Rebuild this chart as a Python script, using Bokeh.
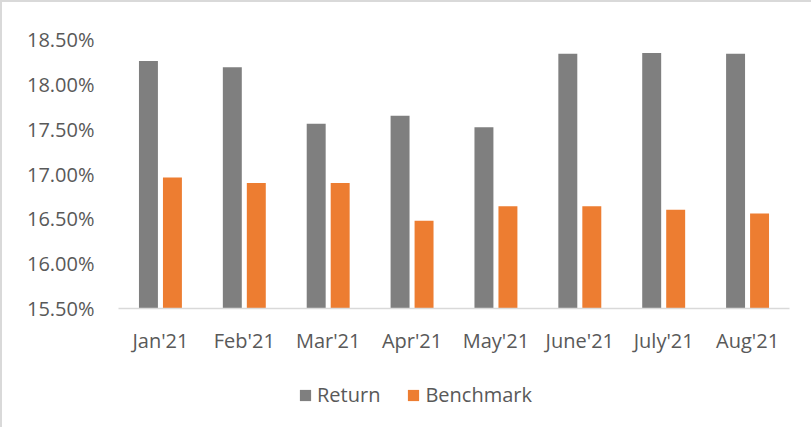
from bokeh.plotting import figure
from bokeh.layouts import column
from bokeh.models import Range1d, NumeralTickFormatter, FixedTicker, Legend, LegendItem, ColumnDataSource
from bokeh.transform import dodge
from bokeh.embed import file_html
from bokeh.resources import INLINE

months = ["Jan'21", "Feb'21", "Mar'21", "Apr'21", "May'21", "June'21", "July'21", "Aug'21"]
returns_pct = [18.26, 18.19, 17.56, 17.65, 17.52, 18.34, 18.35, 18.34]
benchmark_pct = [16.96, 16.90, 16.90, 16.48, 16.64, 16.64, 16.60, 16.56]
y_ticks_pct = [15.5, 16.0, 16.5, 17.0, 17.5, 18.0, 18.5]
series_names = ["Return", "Benchmark"]
series_colors = ["#7f7f7f", "#ed7d31"]

src = ColumnDataSource(dict(
    month=months,
    ret=[v / 100 for v in returns_pct],
    bench=[v / 100 for v in benchmark_pct],
))

FONT = "Open Sans"
TXT = "#595959"

p = figure(x_range=months, y_range=Range1d(0.155, 0.185),
           frame_width=671, frame_height=269, output_backend="svg", toolbar_location=None,
           min_border_left=116, min_border_right=22, min_border_top=37, min_border_bottom=63)

p.vbar(x=dodge("month", -0.143, range=p.x_range), top="ret", bottom=0.155, width=0.226,
       source=src, fill_color=series_colors[0], line_color=None)
p.vbar(x=dodge("month", 0.143, range=p.x_range), top="bench", bottom=0.155, width=0.226,
       source=src, fill_color=series_colors[1], line_color=None)

p.x_range.range_padding = 0
p.xgrid.grid_line_color = None
p.ygrid.grid_line_color = None
p.outline_line_color = None

p.yaxis.ticker = FixedTicker(ticks=[v / 100 for v in y_ticks_pct])
p.yaxis.formatter = NumeralTickFormatter(format="0.00%")
p.yaxis.axis_line_color = None
p.yaxis.major_tick_line_color = None
p.yaxis.minor_tick_line_color = None
p.yaxis.major_label_standoff = 18
p.yaxis.major_label_text_font = FONT
p.yaxis.major_label_text_font_size = "20px"
p.yaxis.major_label_text_color = TXT

p.xaxis.axis_line_color = "#d9d9d9"
p.xaxis.axis_line_width = 1.5
p.xaxis.major_tick_line_color = None
p.xaxis.minor_tick_line_color = None
p.xaxis.major_label_standoff = 12
p.xaxis.major_label_text_font = FONT
p.xaxis.major_label_text_font_size = "20px"
p.xaxis.major_label_text_color = TXT

# legend strip below the chart (its frame is aligned with the chart's frame)
lf = figure(x_range=months, y_range=Range1d(1, 2),
            frame_width=671, height=58, output_backend="svg", toolbar_location=None,
            min_border_left=116, min_border_right=22, min_border_top=0, min_border_bottom=0,
            x_axis_location=None, y_axis_location=None)
lf.outline_line_color = None
lf.xgrid.grid_line_color = None
lf.ygrid.grid_line_color = None
items = []
for name, col, key in zip(series_names, series_colors, ["ret", "bench"]):
    # same data as the chart, lying outside this strip's y range: only the legend swatch shows
    r = lf.vbar(x="month", top=key, bottom=0.155, width=0.226, source=src,
                fill_color=col, line_color=None)
    items.append(LegendItem(label=name, renderers=[r]))
legend = Legend(items=items, orientation="horizontal", location=(180, 21),
                label_text_font=FONT, label_text_font_size="20px", label_text_color=TXT,
                glyph_width=14, glyph_height=14, label_standoff=5, spacing=26,
                border_line_color=None, background_fill_alpha=0, margin=0, padding=0)
lf.add_layout(legend, "center")

layout = column(p, lf, spacing=0,
                styles={"border-top": "2px solid #d9d9d9", "border-left": "2px solid #d9d9d9"})

open("out.html", "w").write(file_html(layout, INLINE))
